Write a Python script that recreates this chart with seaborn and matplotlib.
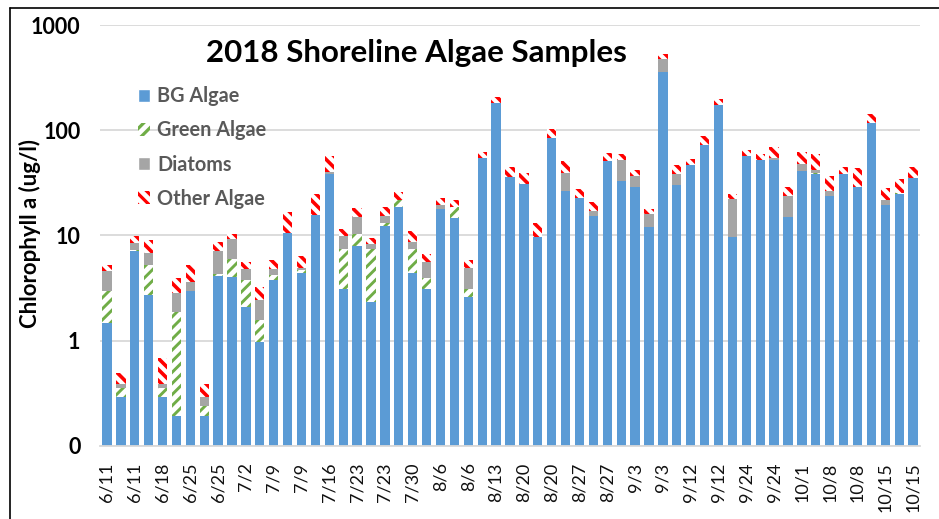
import numpy as np
import pandas as pd
import matplotlib
matplotlib.use("Agg")
import matplotlib.pyplot as plt
import matplotlib.patches as mpatches
from matplotlib.lines import Line2D
import seaborn as sns

# sample values (ug/l), one entry per bar
bg_algae = [1.46, 0.29, 7.1, 2.72, 0.29, 0.19, 2.97, 0.19, 4.1, 4.0,
            2.07, 0.97, 3.76, 10.6, 4.4, 15.7, 38, 3.1, 8.0, 2.34,
            12.4, 18.7, 4.4, 3.1, 17.8, 14.7, 2.6, 54.7, 182, 35.5,
            31, 9.6, 85, 26.5, 22.8, 15.3, 50.5, 32.6, 29, 12.1,
            354, 30, 47, 72.6, 174, 9.7, 56.8, 52, 52, 14.8,
            41, 38, 23.8, 38, 29, 116, 19.4, 24.5, 35.3]
green_algae = [1.51, 0.06, 0.1, 2.5, 0.06, 1.66, 0.0, 0.05, 0.15, 2.0,
               1.7, 0.6, 0.46, 0.0, 0.25, 0.0, 0.0, 4.3, 2.2, 5.1,
               0.6, 2.9, 3.0, 0.86, 0.0, 3.8, 0.5, 0.0, 0.0, 0.0,
               0, 0, 0, 0, 0, 0, 0, 0, 0, 0,
               0, 0, 0, 0, 0, 0, 0, 0, 0, 0,
               0, 1.5, 0, 0, 0, 0, 0, 0.6, 0]
diatoms = [1.64, 0.04, 1.2, 1.6, 0.04, 1.0, 0.63, 0.05, 2.9, 3.2,
           1.0, 0.86, 0.57, 0.0, 0.2, 0.0, 2.0, 2.4, 4.6, 0.8,
           2.3, 0.0, 1.3, 1.66, 1.6, 0.0, 1.8, 0.0, 0.0, 0.0,
           0, 0, 0, 13, 0, 1.9, 0, 19.4, 7.6, 3.7,
           117, 8.2, 0, 0, 0, 12.3, 0, 0, 2, 9,
           7.2, 2.4, 2.7, 0, 0, 0, 2.2, 0, 0]
other_algae = [0.61, 0.10, 1.45, 2.3, 0.29, 1.1, 1.6, 0.095, 1.55, 1.2,
               0.8, 0.77, 1.1, 5.9, 1.5, 9, 17, 1.8, 3.3, 1.3,
               3.3, 4, 2.4, 1.0, 3.4, 3.1, 0.96, 6.8, 23, 9,
               8.6, 3.4, 18, 12, 4.7, 3.7, 10.5, 6.9, 4.9, 2.1,
               54, 8, 5.9, 15.3, 22, 2.5, 7.9, 7.3, 15.6, 5.2,
               14, 17.4, 10.1, 6.6, 14.3, 26, 6.4, 8.9, 9.6]

# every other bar carries a date label
date_labels = ["6/11", "6/11", "6/18", "6/25", "6/25", "7/2", "7/9", "7/9",
               "7/16", "7/23", "7/23", "7/30", "8/6", "8/6", "8/13", "8/20",
               "8/20", "8/27", "8/27", "9/3", "9/3", "9/12", "9/12", "9/24",
               "9/24", "10/1", "10/8", "10/8", "10/15", "10/15"]

df = pd.DataFrame({
    "sample": np.arange(len(bg_algae)),
    "bg": bg_algae,
    "green": green_algae,
    "diatoms": diatoms,
    "other": other_algae,
})
df["c1"] = df["bg"]
df["c2"] = df["c1"] + df["green"]
df["c3"] = df["c2"] + df["diatoms"]
df["c4"] = df["c3"] + df["other"]

sns.set_style("white")
plt.rcParams["font.family"] = ["Lato", "DejaVu Sans"]
plt.rcParams["hatch.linewidth"] = 2.3

BLUE = "#5B9BD5"
GREEN = "#70AD47"
GRAY = "#A5A5A5"
RED = "#FF0000"

fig = plt.figure(figsize=(9.39, 5.19), dpi=100)
ax = fig.add_axes([0.1065, 0.1412, 0.8733, 0.8106])

# stacked bars drawn as overlapping cumulative totals, tallest first
layers = [
    ("c4", dict(color="white", edgecolor=RED, hatch="\\\\\\"), 2.6),
    ("c3", dict(color=GRAY), None),
    ("c2", dict(color="white", edgecolor=GREEN, hatch="///"), 2.1),
    ("c1", dict(color=BLUE), None),
]
for col, kws, hlw in layers:
    n_before = len(ax.patches)
    sns.barplot(data=df, x="sample", y=col, width=0.67, saturation=1,
                errorbar=None, linewidth=0, ax=ax, **kws)
    if hlw is not None:
        for p in ax.patches[n_before:]:
            if hasattr(p, "set_hatch_linewidth"):
                p.set_hatch_linewidth(hlw)

ax.set_yscale("log")
ax.set_ylim(0.1, 1000)
ax.set_xlim(-0.5, len(bg_algae) - 0.5)
ax.set_yticks([0.1, 1, 10, 100, 1000])
ax.set_yticklabels(["0", "1", "10", "100", "1000"], fontsize=15.5,
                   fontweight="bold", color="black")
ax.yaxis.set_minor_locator(matplotlib.ticker.NullLocator())
ax.tick_params(axis="y", length=0, pad=14)

ax.set_xticks(np.arange(0, len(bg_algae), 2))
ax.set_xticklabels(date_labels, rotation=90, fontsize=13, color="#111111")
ax.set_xticks(np.arange(-0.5, len(bg_algae)), minor=True)
ax.tick_params(axis="x", which="major", length=0, pad=12)
ax.tick_params(axis="x", which="minor", length=6, width=1.3, color="#D9D9D9")
ax.set_xlabel("")
ax.set_ylabel("")

ax.grid(axis="y", color="#D9D9D9", linewidth=1.3)
ax.set_axisbelow(True)
for side in ["left", "right", "top"]:
    ax.spines[side].set_visible(False)
ax.spines["bottom"].set_color("#D9D9D9")
ax.spines["bottom"].set_linewidth(1.3)

fig.text(0.4436, 0.897, "2018 Shoreline Algae Samples", ha="center",
         va="center", fontsize=22.5, fontweight="bold", color="black")
fig.text(0.032, 0.551, "Chlorophyll a (ug/l)", rotation=90, ha="center",
         va="center", fontsize=16, fontweight="bold", color="black")

handles = [
    mpatches.Patch(facecolor=BLUE, label="BG Algae"),
    mpatches.Patch(facecolor="white", edgecolor=GREEN, hatch="///",
                   linewidth=0, label="Green Algae"),
    mpatches.Patch(facecolor=GRAY, label="Diatoms"),
    mpatches.Patch(facecolor="white", edgecolor=RED, hatch="\\\\\\",
                   linewidth=0, label="Other Algae"),
]
leg = fig.legend(handles=handles, loc="upper left",
                 bbox_to_anchor=(0.138, 0.849), frameon=False,
                 prop={"size": 14.3, "weight": "bold"}, labelcolor="#595959",
                 handlelength=0.65, handleheight=0.65, handletextpad=0.35,
                 labelspacing=0.71, borderaxespad=0)

# chart border (left and top edges visible in the crop)
fig.add_artist(Line2D([10 / 939, 10 / 939], [0, 1 - 8 / 519], color="black",
                      linewidth=1.2, transform=fig.transFigure))
fig.add_artist(Line2D([10 / 939, 1], [1 - 8 / 519, 1 - 8 / 519], color="black",
                      linewidth=1.2, transform=fig.transFigure))

fig.savefig("out.png", dpi=100)
plt.close(fig)
